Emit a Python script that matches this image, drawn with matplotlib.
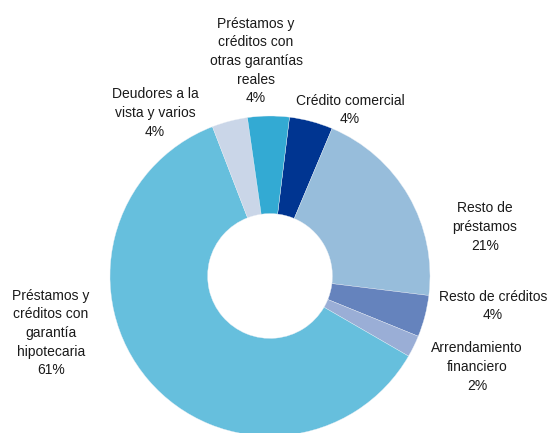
import matplotlib
matplotlib.use("Agg")
import matplotlib.pyplot as plt

plt.rcParams['font.family'] = ['Liberation Sans', 'DejaVu Sans']

# Data (clockwise from just right of top)
categories = [
    "Crédito comercial",
    "Resto de\npréstamos",
    "Resto de créditos",
    "Arrendamiento\nfinanciero",
    "Préstamos y\ncréditos con\ngarantía\nhipotecaria",
    "Deudores a la\nvista y varios",
    "Préstamos y\ncréditos con\notras garantías\nreales",
]
values = [4.4, 20.6, 4.2, 2.2, 60.8, 3.6, 4.2]
colors = ["#003591", "#97BDDB", "#6583BD", "#9AAED6", "#66BFDD", "#CAD6E8", "#33AAD3"]

# Layout: label centres in pixels (x, y from top)
label_px = [(350, 110), (485, 227), (493, 306), (477, 367),
            (51, 333), (155, 113), (256, 61)]

W, H, DPI = 552, 433, 100
cx, cy, R = 270, 276, 160

fig = plt.figure(figsize=(W / DPI, H / DPI), dpi=DPI)
ax = fig.add_axes([0, 0, 1, 1])

ax.pie(values, colors=colors, startangle=83, counterclock=False,
       radius=1.0, center=(0, 0),
       wedgeprops=dict(width=0.61, edgecolor="#e8eef5", linewidth=0.25))

ax.set_xlim(-cx / R, (W - cx) / R)
ax.set_ylim(-(H - cy) / R, cy / R)
ax.set_aspect('auto')
ax.axis('off')

for cat, v, (px, py) in zip(categories, values, label_px):
    ax.text((px - cx) / R, (cy - py) / R, f"{cat}\n{round(v)}%",
            ha='center', va='center', multialignment='center',
            fontsize=10, color="#1a1a1a", linespacing=1.42)

fig.savefig("out.png", dpi=DPI)
